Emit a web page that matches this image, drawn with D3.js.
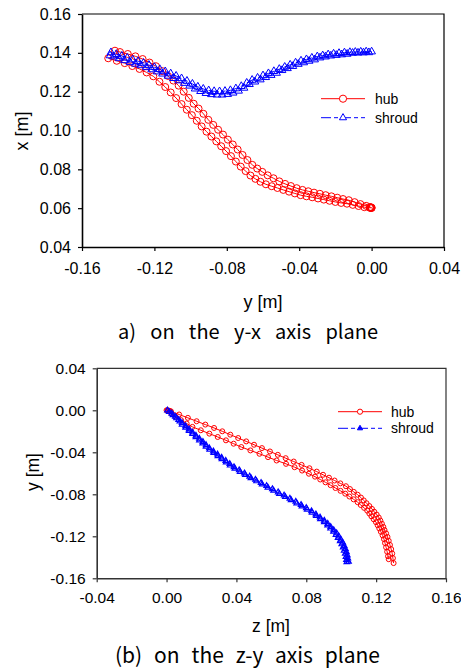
<!DOCTYPE html>
<html>
<head>
<meta charset="utf-8">
<script src="https://cdn.jsdelivr.net/npm/d3@7"></script>
<style>
  body { margin: 0; background: #fff; }
  svg { display: block; }
</style>
</head>
<body>
<svg id="fig" width="461" height="672"></svg>
<script>
// Impeller blade meridional curves, each point is [x, y, z] in metres.
// Every curve is traced along both blade surfaces (side 1 and side 2).
const hubSide1 = [
  [0.0601, 0.0000, 0.0000], [0.0601, -0.0003, 0.0008], [0.0602, -0.0006, 0.0016],
  [0.0602, -0.0010, 0.0025], [0.0605, -0.0040, 0.0072], [0.0611, -0.0072, 0.0122],
  [0.0617, -0.0104, 0.0172], [0.0623, -0.0136, 0.0222], [0.0627, -0.0168, 0.0272],
  [0.0632, -0.0200, 0.0319], [0.0638, -0.0232, 0.0365], [0.0644, -0.0264, 0.0410],
  [0.0650, -0.0296, 0.0456], [0.0656, -0.0328, 0.0501], [0.0661, -0.0360, 0.0546],
  [0.0667, -0.0392, 0.0592], [0.0676, -0.0424, 0.0637], [0.0685, -0.0456, 0.0682],
  [0.0694, -0.0488, 0.0728], [0.0704, -0.0520, 0.0773], [0.0713, -0.0552, 0.0818],
  [0.0723, -0.0584, 0.0860], [0.0736, -0.0614, 0.0896], [0.0751, -0.0642, 0.0930],
  [0.0768, -0.0669, 0.0962], [0.0791, -0.0696, 0.0995], [0.0814, -0.0723, 0.1027],
  [0.0840, -0.0750, 0.1050], [0.0868, -0.0777, 0.1072], [0.0894, -0.0804, 0.1094],
  [0.0919, -0.0831, 0.1113], [0.0944, -0.0858, 0.1129], [0.0969, -0.0885, 0.1145],
  [0.0994, -0.0912, 0.1161], [0.1021, -0.0939, 0.1176], [0.1050, -0.0966, 0.1189],
  [0.1079, -0.0993, 0.1203], [0.1107, -0.1021, 0.1215], [0.1136, -0.1050, 0.1224],
  [0.1167, -0.1080, 0.1233], [0.1196, -0.1110, 0.1241], [0.1224, -0.1140, 0.1248],
  [0.1251, -0.1172, 0.1257], [0.1279, -0.1206, 0.1265], [0.1299, -0.1243, 0.1272],
  [0.1317, -0.1282, 0.1279], [0.1332, -0.1322, 0.1286], [0.1347, -0.1364, 0.1292],
  [0.1359, -0.1408, 0.1296], [0.1372, -0.1455, 0.1300]
];
const hubSide2 = [
  [0.0603, 0.0000, 0.0005], [0.0604, -0.0004, 0.0012], [0.0606, -0.0009, 0.0020],
  [0.0612, -0.0030, 0.0027], [0.0621, -0.0062, 0.0051], [0.0631, -0.0094, 0.0083],
  [0.0641, -0.0126, 0.0115], [0.0647, -0.0158, 0.0148], [0.0654, -0.0190, 0.0196],
  [0.0661, -0.0222, 0.0245], [0.0667, -0.0254, 0.0293], [0.0674, -0.0286, 0.0340],
  [0.0680, -0.0318, 0.0384], [0.0687, -0.0350, 0.0428], [0.0694, -0.0382, 0.0480],
  [0.0703, -0.0414, 0.0532], [0.0714, -0.0446, 0.0581], [0.0725, -0.0478, 0.0630],
  [0.0738, -0.0510, 0.0684], [0.0754, -0.0542, 0.0733], [0.0769, -0.0574, 0.0776],
  [0.0787, -0.0604, 0.0815], [0.0804, -0.0632, 0.0850], [0.0823, -0.0659, 0.0880],
  [0.0848, -0.0686, 0.0910], [0.0874, -0.0713, 0.0939], [0.0902, -0.0740, 0.0967],
  [0.0928, -0.0767, 0.0996], [0.0953, -0.0794, 0.1023], [0.0979, -0.0821, 0.1047],
  [0.1004, -0.0848, 0.1071], [0.1029, -0.0875, 0.1094], [0.1055, -0.0902, 0.1112],
  [0.1086, -0.0929, 0.1131], [0.1113, -0.0956, 0.1149], [0.1138, -0.0983, 0.1161],
  [0.1168, -0.1010, 0.1173], [0.1200, -0.1038, 0.1186], [0.1231, -0.1066, 0.1199],
  [0.1257, -0.1095, 0.1209], [0.1281, -0.1125, 0.1218], [0.1306, -0.1157, 0.1227],
  [0.1331, -0.1191, 0.1237], [0.1350, -0.1227, 0.1245], [0.1368, -0.1265, 0.1251],
  [0.1382, -0.1305, 0.1257], [0.1394, -0.1347, 0.1263], [0.1404, -0.1390, 0.1268],
  [0.1411, -0.1418, 0.1272]
];
const shroudSide1 = [
  [0.1406, 0.0000, 0.0005], [0.1406, -0.0030, 0.0030], [0.1405, -0.0060, 0.0050],
  [0.1404, -0.0090, 0.0069], [0.1403, -0.0120, 0.0089], [0.1401, -0.0150, 0.0109],
  [0.1398, -0.0180, 0.0129], [0.1395, -0.0210, 0.0149], [0.1391, -0.0240, 0.0168],
  [0.1386, -0.0270, 0.0188], [0.1381, -0.0300, 0.0208], [0.1374, -0.0330, 0.0226],
  [0.1366, -0.0360, 0.0245], [0.1359, -0.0390, 0.0268], [0.1349, -0.0420, 0.0292],
  [0.1338, -0.0450, 0.0315], [0.1327, -0.0480, 0.0339], [0.1316, -0.0510, 0.0362],
  [0.1305, -0.0540, 0.0386], [0.1294, -0.0570, 0.0416], [0.1283, -0.0600, 0.0446],
  [0.1271, -0.0630, 0.0476], [0.1260, -0.0660, 0.0509], [0.1245, -0.0690, 0.0541],
  [0.1228, -0.0720, 0.0573], [0.1216, -0.0750, 0.0606], [0.1207, -0.0780, 0.0639],
  [0.1203, -0.0810, 0.0673], [0.1201, -0.0840, 0.0706], [0.1202, -0.0870, 0.0740],
  [0.1206, -0.0900, 0.0770], [0.1214, -0.0930, 0.0800], [0.1225, -0.0960, 0.0830],
  [0.1240, -0.0990, 0.0855], [0.1255, -0.1020, 0.0879], [0.1268, -0.1050, 0.0903],
  [0.1281, -0.1080, 0.0923], [0.1293, -0.1110, 0.0940], [0.1304, -0.1140, 0.0957],
  [0.1315, -0.1170, 0.0974], [0.1326, -0.1200, 0.0986], [0.1337, -0.1230, 0.0998],
  [0.1348, -0.1260, 0.1009], [0.1357, -0.1290, 0.1017], [0.1365, -0.1320, 0.1024],
  [0.1374, -0.1350, 0.1030], [0.1384, -0.1380, 0.1035], [0.1393, -0.1410, 0.1038],
  [0.1402, -0.1440, 0.1042]
];
const shroudSide2 = [
  [0.1402, -0.0015, 0.0015], [0.1401, -0.0045, 0.0037], [0.1400, -0.0075, 0.0057],
  [0.1399, -0.0105, 0.0076], [0.1394, -0.0135, 0.0089], [0.1391, -0.0165, 0.0109],
  [0.1388, -0.0195, 0.0129], [0.1385, -0.0225, 0.0149], [0.1380, -0.0255, 0.0168],
  [0.1375, -0.0285, 0.0188], [0.1365, -0.0315, 0.0207], [0.1358, -0.0345, 0.0226],
  [0.1350, -0.0375, 0.0247], [0.1342, -0.0405, 0.0270], [0.1331, -0.0435, 0.0294],
  [0.1320, -0.0465, 0.0317], [0.1310, -0.0495, 0.0341], [0.1296, -0.0525, 0.0364],
  [0.1285, -0.0555, 0.0391], [0.1274, -0.0585, 0.0421], [0.1262, -0.0615, 0.0451],
  [0.1251, -0.0645, 0.0483], [0.1238, -0.0675, 0.0515], [0.1219, -0.0705, 0.0547],
  [0.1204, -0.0735, 0.0580], [0.1194, -0.0765, 0.0613], [0.1187, -0.0795, 0.0646],
  [0.1184, -0.0825, 0.0680], [0.1184, -0.0855, 0.0713], [0.1186, -0.0885, 0.0745],
  [0.1192, -0.0915, 0.0775], [0.1202, -0.0945, 0.0805], [0.1215, -0.0975, 0.0833],
  [0.1230, -0.1005, 0.0857], [0.1244, -0.1035, 0.0881], [0.1257, -0.1065, 0.0903],
  [0.1269, -0.1095, 0.0922], [0.1281, -0.1125, 0.0939], [0.1292, -0.1155, 0.0956],
  [0.1303, -0.1185, 0.0970], [0.1314, -0.1215, 0.0982], [0.1325, -0.1245, 0.0994],
  [0.1335, -0.1275, 0.1003], [0.1343, -0.1305, 0.1011], [0.1352, -0.1335, 0.1017],
  [0.1361, -0.1365, 0.1023], [0.1371, -0.1395, 0.1027], [0.1380, -0.1425, 0.1030],
  [0.1386, -0.1445, 0.1032]
];

const seriesNames = ["hub", "shroud"];

// Tick values for the two panels
const yxTicksH = [-0.16, -0.12, -0.08, -0.04, 0.00, 0.04];
const yxTicksV = [0.04, 0.06, 0.08, 0.10, 0.12, 0.14, 0.16];
const zyTicksH = [-0.04, 0.00, 0.04, 0.08, 0.12, 0.16];
const zyTicksV = [-0.16, -0.12, -0.08, -0.04, 0.00, 0.04];

const panelTitles = [
  ["a)", "on", "the", "y-x", "axis", "plane"],
  ["(b)", "on", "the", "z-y", "axis", "plane"]
];

const RED = "#ff0000", BLUE = "#0000ff";
const SANS = "'Liberation Sans', Arial, Helvetica, sans-serif";
const svg = d3.select("#fig");
const fmt = v => (Math.abs(v) < 1e-9 ? 0 : v).toFixed(2);

function drawPanel(cfg) {
  const g = svg.append("g");
  const sx = d3.scaleLinear().domain(cfg.hDomain).range([cfg.left, cfg.right]);
  const sy = d3.scaleLinear().domain(cfg.vDomain).range([cfg.bottom, cfg.top]);

  // top and right frame
  g.append("path")
    .attr("d", `M${cfg.left},${cfg.top}H${cfg.right}V${cfg.bottom}`)
    .attr("fill", "none").attr("stroke", cfg.frameColor).attr("stroke-width", 1.2);

  const ax = g.append("g").attr("transform", `translate(0,${cfg.bottom})`)
    .call(d3.axisBottom(sx).tickValues(cfg.ticksH).tickFormat(fmt)
      .tickSize(cfg.tickLen).tickSizeOuter(0).tickPadding(cfg.padH));
  const ay = g.append("g").attr("transform", `translate(${cfg.left},0)`)
    .call(d3.axisLeft(sy).tickValues(cfg.ticksV).tickFormat(fmt)
      .tickSize(cfg.tickLen).tickSizeOuter(0).tickPadding(cfg.padV));
  [ax, ay].forEach(a => {
    a.attr("font-family", null).attr("font-size", null);
    a.select(".domain").attr("stroke", cfg.axisColor).attr("stroke-width", 1.6);
    a.selectAll(".tick line").attr("stroke", cfg.axisColor).attr("stroke-width", 1.2);
    a.selectAll(".tick text").attr("fill", "#000")
      .style("font-family", SANS).style("font-size", cfg.tickFont + "px");
  });

  const line = d3.line().x(p => sx(p[cfg.h])).y(p => sy(p[cfg.v]));
  const tri = d3.symbol().type(d3.symbolTriangle).size(cfg.triSize);

  // hub curves: solid red line, open circles
  [hubSide1, hubSide2].forEach(pts => {
    g.append("path").attr("d", line(pts))
      .attr("fill", "none").attr("stroke", RED).attr("stroke-width", 1);
    g.append("g").selectAll("circle").data(pts).join("circle")
      .attr("cx", p => sx(p[cfg.h])).attr("cy", p => sy(p[cfg.v]))
      .attr("r", cfg.circleR)
      .attr("fill", "none").attr("stroke", RED).attr("stroke-width", 1);
  });
  // shroud curves: dash-dot blue line, open triangles
  [shroudSide1, shroudSide2].forEach(pts => {
    g.append("path").attr("d", line(pts))
      .attr("fill", "none").attr("stroke", BLUE).attr("stroke-width", 1)
      .attr("stroke-dasharray", "10,3,4,3");
    g.append("g").selectAll("path").data(pts).join("path")
      .attr("d", tri)
      .attr("transform", p => `translate(${sx(p[cfg.h])},${sy(p[cfg.v])})`)
      .attr("fill", "none").attr("stroke", BLUE).attr("stroke-width", cfg.triStroke);
  });

  // legend
  const lg = cfg.legend;
  seriesNames.forEach((name, i) => {
    const yy = lg.y[i];
    const mx = (lg.x0 + lg.x1) / 2;
    const isHub = name === "hub";
    g.append("line").attr("x1", lg.x0).attr("x2", lg.x1).attr("y1", yy).attr("y2", yy)
      .attr("stroke", isHub ? RED : BLUE).attr("stroke-width", 1)
      .attr("stroke-dasharray", isHub ? null : "10,3,4,3");
    if (isHub) {
      g.append("circle").attr("cx", mx).attr("cy", yy).attr("r", lg.circleR)
        .attr("fill", "#fff").attr("stroke", RED).attr("stroke-width", 1);
    } else {
      g.append("path").attr("d", d3.symbol().type(d3.symbolTriangle).size(lg.triSize)())
        .attr("transform", `translate(${mx},${yy})`)
        .attr("fill", lg.triFill).attr("stroke", BLUE).attr("stroke-width", 1);
    }
    g.append("text").attr("x", lg.tx).attr("y", yy).attr("dy", "0.35em")
      .style("font-family", SANS).style("font-size", lg.font + "px")
      .text(name);
  });

  // axis titles
  g.append("text").attr("x", cfg.hTitle.x).attr("y", cfg.hTitle.y)
    .attr("text-anchor", "middle").attr("dy", "0.35em")
    .style("font-family", SANS).style("font-size", cfg.titleFont + "px")
    .text(cfg.hTitle.text);
  g.append("text")
    .attr("transform", `translate(${cfg.vTitle.x},${cfg.vTitle.y}) rotate(-90)`)
    .attr("text-anchor", "middle").attr("dy", "0.35em")
    .style("font-family", SANS).style("font-size", cfg.titleFont + "px")
    .text(cfg.vTitle.text);

  // caption, words spread across the given width
  const cap = g.append("text").attr("y", cfg.caption.y)
    .style("font-family", "'Noto Sans CJK KR', 'Noto Sans', sans-serif")
    .style("font-size", cfg.caption.font + "px");
  const spans = cfg.caption.words.map(w => cap.append("tspan").text(w));
  const widths = spans.map(s => s.node().getComputedTextLength());
  const total = d3.sum(widths);
  const gap = (cfg.caption.x1 - cfg.caption.x0 - total) / (widths.length - 1);
  let cx = cfg.caption.x0;
  spans.forEach((s, i) => { s.attr("x", cx); cx += widths[i] + gap; });
}

drawPanel({
  h: 1, v: 0,
  hDomain: [-0.16, 0.04], vDomain: [0.04, 0.16],
  left: 82, right: 444, top: 14, bottom: 247,
  ticksH: yxTicksH, ticksV: yxTicksV,
  tickLen: 4, padH: 12, padV: 7, tickFont: 16,
  axisColor: "#000", frameColor: "#000",
  circleR: 3.5, triSize: 26, triStroke: 1,
  legend: { x0: 321, x1: 365, y: [98.7, 117.7], tx: 375, font: 14,
            circleR: 3.6, triSize: 22, triFill: "#fff" },
  titleFont: 18,
  hTitle: { x: 263, y: 302, text: "y [m]" },
  vTitle: { x: 22, y: 131, text: "x [m]" },
  caption: { words: panelTitles[0], x0: 118, x1: 378, y: 339, font: 20 }
});

drawPanel({
  h: 2, v: 1,
  hDomain: [-0.04, 0.16], vDomain: [-0.16, 0.04],
  left: 96.7, right: 446, top: 368.3, bottom: 578.3,
  ticksH: zyTicksH, ticksV: zyTicksV,
  tickLen: 4, padH: 10, padV: 7, tickFont: 15.5,
  axisColor: "#333", frameColor: "#333",
  circleR: 2.5, triSize: 13, triStroke: 1.2,
  legend: { x0: 338, x1: 382, y: [411.7, 428.3], tx: 391, font: 14,
            circleR: 2.6, triSize: 12, triFill: BLUE },
  titleFont: 17.5,
  hTitle: { x: 271, y: 626, text: "z [m]" },
  vTitle: { x: 33, y: 472, text: "y [m]" },
  caption: { words: panelTitles[1], x0: 115, x1: 380, y: 663, font: 21 }
});
</script>
</body>
</html>
